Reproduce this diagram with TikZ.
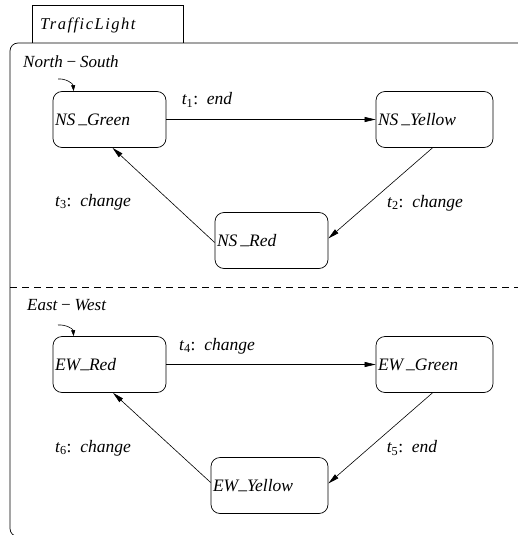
\documentclass[tikz,border=0pt]{standalone}
\usepackage{fontspec}
\setmainfont{Liberation Serif}
\newfontfamily\spacedfont[LetterSpace=9]{Liberation Serif}
\usetikzlibrary{arrows.meta}

\newcommand{\trlabel}[2]{{\itshape t}\textsubscript{\upshape #1}:\ \ \textit{#2}}
\newcommand{\us}{\raisebox{0.25ex}{\_}}

\tikzset{
  state/.style={draw, line width=0.7pt, rounded corners=9pt,
    minimum height=56pt, inner xsep=2pt, anchor=center,
    font=\fontsize{17.5}{20}\selectfont\itshape},
  trans/.style={line width=0.6pt, -{Triangle[length=11pt,width=5pt]}},
  initarr/.style={line width=0.6pt, -{Triangle[length=6pt,width=4pt]}},
  tlabel/.style={font=\fontsize{17.5}{20}\selectfont, inner sep=0pt},
  region/.style={font=\fontsize{17}{20}\selectfont\itshape, inner sep=0pt, anchor=west},
}

\begin{document}
\begin{tikzpicture}[x=1pt, y=-1pt]
  \useasboundingbox (0,0) rectangle (518,535);
  \clip (0,0) rectangle (518,535);

  % tab with the machine name
  \draw[line width=0.7pt] (32,43) -- (32,5) -- (183,5) -- (183,43);
  \node[region, font=\fontsize{16.5}{20}\selectfont\spacedfont\itshape] (title) at (40,25) {TrafficLight};

  % enclosing state, open to the right and below
  \draw[line width=0.7pt, rounded corners=8pt] (540,43) -- (10,43) -- (10,536.5) -- (540,536.5);

  % separator between the two orthogonal regions
  \draw[line width=0.6pt, dash pattern=on 7pt off 5pt] (10,287) -- (540,287);

  \node[region] (ns) at (23,62) {North\,−\,South};
  \node[region] (ew) at (27,305) {East\,−\,West};

  % North-South states
  \node[state, minimum width=113pt, text width=109pt] (NSG) at (109.5,119.5) {NS\,\us Green};
  \node[state, minimum width=117pt, text width=113pt] (NSY) at (434.5,119.5) {NS\,\us Yellow};
  \node[state, minimum width=113pt, text width=109pt] (NSR) at (271.5,240.5) {NS\,\us Red};

  % East-West states
  \node[state, minimum width=113pt, text width=109pt] (EWR) at (109.5,364.5) {EW\us Red};
  \node[state, minimum width=117pt, text width=113pt] (EWG) at (434.5,364.5) {EW\,\us Green};
  \node[state, minimum width=117pt, text width=113pt] (EWY) at (269.5,485.5) {EW\us Yellow};

  % initial pseudo-state arrows
  \coordinate (nsinit) at (58,79);
  \coordinate (ewinit) at (58,325);
  \draw[initarr] (nsinit) to[out=5, in=95] ([xshift=21pt]NSG.north west);
  \draw[initarr] (ewinit) to[out=5, in=95] ([xshift=21pt]EWR.north west);

  % transitions
  \draw[trans] (NSG.east) -- (NSY.west);
  \draw[trans] ([xshift=-2pt]NSY.south) -- ([yshift=2pt]NSR.east);
  \draw[trans] ([yshift=-2pt]NSR.west) -- ([xshift=3pt]NSG.south);

  \draw[trans] (EWR.east) -- (EWG.west);
  \draw[trans] ([xshift=-2pt]EWG.south) -- ([yshift=2pt]EWY.east);
  \draw[trans] ([yshift=3pt]EWY.west) -- ([xshift=3.5pt]EWR.south);

  % transition labels
  \node[tlabel] (l1) at (207,100) {\trlabel{1}{end}};
  \node[tlabel] (l2) at (425,203) {\trlabel{2}{change}};
  \node[tlabel] (l3) at (93,202) {\trlabel{3}{change}};
  \node[tlabel] (l4) at (217,346) {\trlabel{4}{change}};
  \node[tlabel] (l5) at (412,448) {\trlabel{5}{end}};
  \node[tlabel] (l6) at (93,448) {\trlabel{6}{change}};
\end{tikzpicture}
\end{document}
